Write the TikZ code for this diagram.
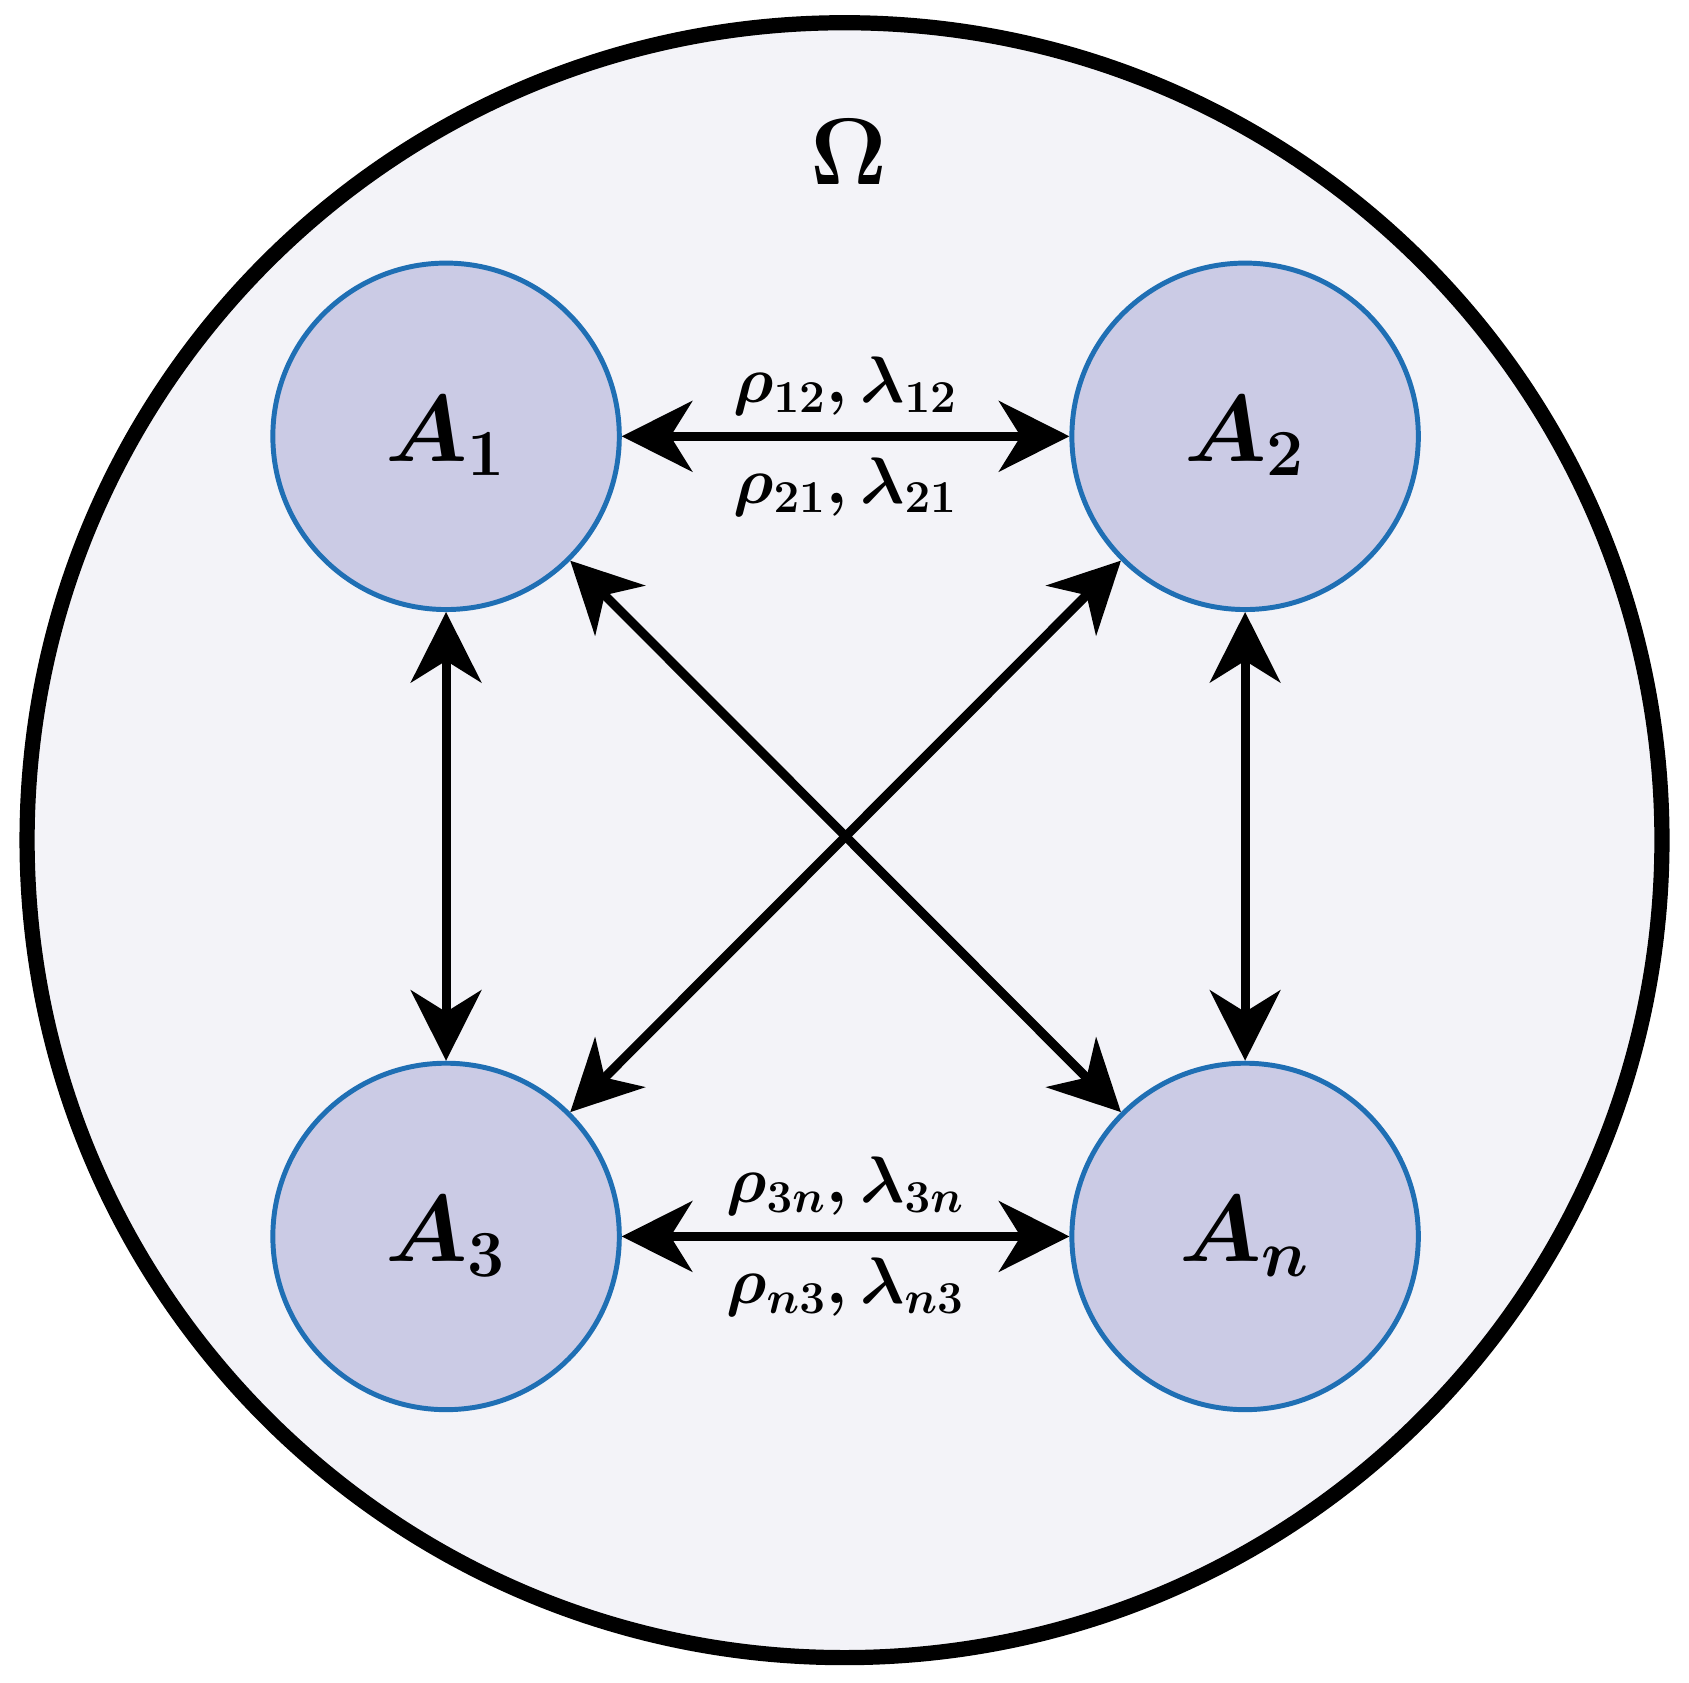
\documentclass[tikz,border=0pt]{standalone}
\usepackage{amsmath}
\usetikzlibrary{arrows.meta}
\definecolor{omegafill}{HTML}{F3F3F8}
\definecolor{agentfill}{HTML}{CBCBE5}
\definecolor{agentline}{HTML}{1F6FB4}
\tikzset{
    agent/.style={circle, draw=agentline, fill=agentfill, line width=1.3pt, minimum size=3.2cm, inner sep=0pt, font=\fontsize{27}{30}\selectfont\boldmath},
    link/.style={{Stealth[length=6.5mm,width=6.5mm,inset=2mm]}-{Stealth[length=6.5mm,width=6.5mm,inset=2mm]}, line width=2.4pt},
    rate/.style={font=\fontsize{17}{20}\selectfont\boldmath}
}
\begin{document}
\begin{tikzpicture}[y=-1cm]
    \useasboundingbox (0,0) rectangle (15.6,15.54);
    \draw[line width=4pt, fill=omegafill] (7.80,7.76) circle (7.55);
    \node (omega) at (7.84,1.40) {\fontsize{28}{32}\selectfont$\boldsymbol{\Omega}$};

    \node[agent] (a1) at (4.12,4.03) {$A_1$};
    \node[agent] (a2) at (11.50,4.03) {$A_2$};
    \node[agent] (a3) at (4.12,11.42) {$A_3$};
    \node[agent] (an) at (11.50,11.42) {$A_n$};

    \draw[link] (a1) -- (a2)
        node[rate, midway, above=1pt] {$\rho_{12},\lambda_{12}$}
        node[rate, midway, below=1pt] {$\rho_{21},\lambda_{21}$};
    \draw[link] (a3) -- (an)
        node[rate, midway, above=1pt] {$\rho_{3n},\lambda_{3n}$}
        node[rate, midway, below=1pt] {$\rho_{n3},\lambda_{n3}$};
    \draw[link] (a1) -- (a3);
    \draw[link] (a2) -- (an);
    \draw[link] (a1) -- (an);
    \draw[link] (a2) -- (a3);
\end{tikzpicture}
\end{document}
